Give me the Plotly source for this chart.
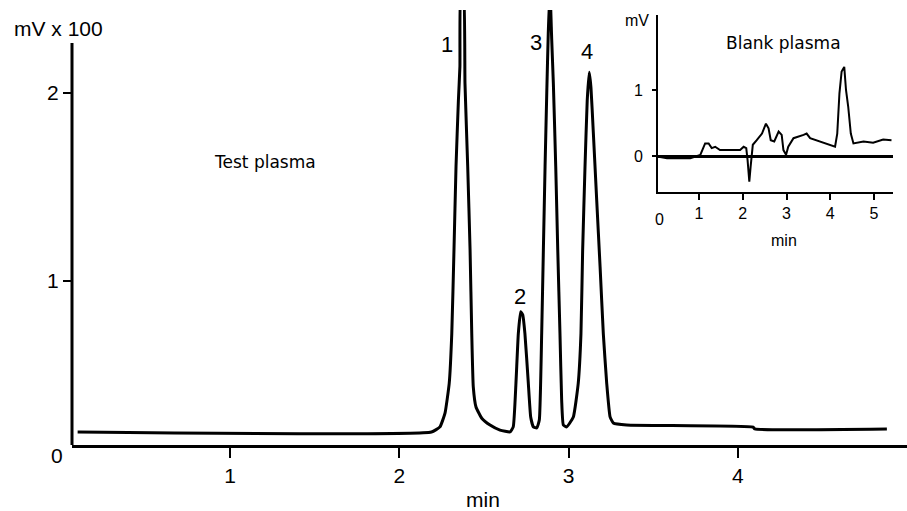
import plotly.graph_objects as go

W, H = 907, 511

# ---- main chromatogram (Test plasma): time (min), signal (mV x 100)
test_time = [0.10, 2.19, 2.24, 2.27, 2.295, 2.31, 2.323, 2.335, 2.349, 2.358, 2.364, 2.378,
             2.388, 2.404, 2.418, 2.428, 2.437, 2.453, 2.487, 2.536, 2.595, 2.654,
             2.673, 2.689, 2.703, 2.717, 2.729, 2.742, 2.762, 2.776, 2.792, 2.812,
             2.827, 2.841, 2.851, 2.861, 2.871, 2.880, 2.890, 2.900, 2.910, 2.924, 2.936,
             2.949, 2.959, 2.969, 2.989,
             3.028, 3.057, 3.073, 3.083, 3.097, 3.110, 3.122, 3.132, 3.146, 3.166, 3.186,
             3.205, 3.225, 3.245, 3.264, 3.343, 4.09, 4.10, 4.88]
test_signal = [0.197, 0.197, 0.224, 0.297, 0.457, 0.72, 1.165, 1.61, 1.96, 2.14, 2.55, 2.55,
               2.05, 1.61, 1.165, 0.72, 0.437, 0.33, 0.27, 0.234, 0.207, 0.197,
               0.224, 0.457, 0.72, 0.837, 0.82, 0.72, 0.457, 0.277, 0.224, 0.218,
               0.26, 0.72, 1.165, 1.61, 2.0, 2.32, 2.55, 2.29, 2.05, 1.61, 1.165,
               0.72, 0.367, 0.234, 0.224,
               0.277, 0.457, 0.72, 1.165, 1.61, 1.96, 2.11, 2.03, 1.79, 1.43, 1.075,
               0.72, 0.457, 0.277, 0.245, 0.234, 0.223, 0.213, 0.213]

peak_labels = ["1", "2", "3", "4"]
peak_label_time = [2.28, 2.715, 2.81, 3.11]
peak_label_signal = [2.26, 0.92, 2.27, 2.22]

main_xticks = [1, 2, 3, 4]
main_yticks = [1, 2]

# ---- inset chromatogram (Blank plasma): time (min), signal (mV)
blank_time = [0.08, 0.27, 0.80, 1.03, 1.14, 1.22, 1.29, 1.37, 1.48, 1.94, 2.02, 2.08, 2.11,
              2.15, 2.18, 2.23, 2.32, 2.44, 2.53, 2.59, 2.64, 2.72, 2.82, 2.89, 2.93, 2.99,
              3.04, 3.16, 3.39, 3.46, 3.54, 3.77, 4.00, 4.11, 4.16, 4.21, 4.26, 4.32, 4.36,
              4.41, 4.47, 4.53, 4.76, 4.98, 5.21, 5.40]
blank_signal = [-0.01, -0.035, -0.035, 0.015, 0.19, 0.19, 0.12, 0.14, 0.09, 0.09, 0.14, 0.12, -0.06,
                -0.39, -0.16, 0.17, 0.24, 0.34, 0.49, 0.42, 0.24, 0.22, 0.37, 0.32, 0.09, 0.02,
                0.14, 0.27, 0.32, 0.34, 0.27, 0.22, 0.17, 0.14, 0.34, 0.95, 1.28, 1.35, 1.0,
                0.75, 0.34, 0.19, 0.22, 0.20, 0.25, 0.24]
inset_xticks = [1, 2, 3, 4, 5]
inset_yticks = [0, 1]

FONT = "Liberation Sans, Arial, sans-serif"
LABEL_FONT = "DejaVu Sans, sans-serif"


def px(x):
    return x / W


def py(y):
    return (H - y) / H


fig = go.Figure()
fig.add_trace(go.Scatter(x=test_time, y=test_signal, mode="lines",
                         line=dict(color="black", width=3, shape="spline", smoothing=0.4),
                         xaxis="x", yaxis="y", showlegend=False, hoverinfo="skip"))
fig.add_trace(go.Scatter(x=blank_time, y=blank_signal, mode="lines",
                         line=dict(color="black", width=2),
                         xaxis="x2", yaxis="y2", showlegend=False, hoverinfo="skip"))

# peak number labels
for lab, xt, yt in zip(peak_labels, peak_label_time, peak_label_signal):
    fig.add_annotation(x=xt, y=yt, xref="x", yref="y", text=lab, showarrow=False,
                       font=dict(family=FONT, size=22, color="black"))

main_y_bottom = (469 - 445) / 188.0
main_y_top = (469 - 10) / 188.0
main_axis_top = (469 - 43) / 188.0

fig.update_layout(
    width=W, height=H,
    margin=dict(l=0, r=0, t=0, b=0),
    paper_bgcolor="white", plot_bgcolor="white",
    font=dict(family=FONT, color="black"),
    xaxis=dict(domain=[px(72), 1.0], range=[(72 - 60.7) / 169.3, (907 - 60.7) / 169.3],
               showgrid=False, zeroline=False, showline=True, linewidth=3, linecolor="black",
               ticks="outside", ticklen=10, tickwidth=2, tickcolor="black",
               tickvals=main_xticks, tickfont=dict(size=21, family=FONT)),
    yaxis=dict(domain=[py(445), py(10)], range=[main_y_bottom, main_y_top],
               showgrid=False, zeroline=False, showline=False,
               ticks="outside", ticklen=8, tickwidth=2, tickcolor="black",
               tickvals=main_yticks, tickfont=dict(size=21, family=FONT)),
    xaxis2=dict(domain=[px(658), px(893)], range=[(658 - 655.25) / 43.75, (893 - 655.25) / 43.75],
                anchor="y2", showgrid=False, zeroline=False, showline=True, linewidth=2,
                linecolor="black", ticks="outside", ticklen=6, tickwidth=2, tickcolor="black",
                tickvals=inset_xticks, tickfont=dict(size=16, family=FONT)),
    yaxis2=dict(domain=[py(192), py(15)], range=[(156 - 192) / 66.0, (156 - 15) / 66.0],
                anchor="x2", showgrid=False, zeroline=True, zerolinewidth=3, zerolinecolor="black",
                showline=True, linewidth=2, linecolor="black",
                ticks="outside", ticklen=4, tickwidth=2, tickcolor="black",
                tickvals=inset_yticks, ticklabelstandoff=6, tickfont=dict(size=16, family=FONT)),
)

# main y-axis line (shorter than plot area, peaks exceed it)
fig.add_shape(type="line", xref="paper", yref="y", x0=px(72), x1=px(72),
              y0=main_y_bottom, y1=main_axis_top, line=dict(color="black", width=3))

texts = [
    ("mV x 100", 58, 28, 21, FONT),
    ("0", 57, 455, 21, FONT),
    ("min", 483, 499, 21, FONT),
    ("Test plasma", 265, 162, 17, LABEL_FONT),
    ("Blank plasma", 783, 43, 17, LABEL_FONT),
    ("mV", 637, 20, 16, FONT),
    ("0", 659, 219, 16, FONT),
    ("min", 784, 240, 16, FONT),
]
for t, x, y, s, f in texts:
    fig.add_annotation(x=px(x), y=py(y), xref="paper", yref="paper", text=t, showarrow=False,
                       xanchor="center", yanchor="middle",
                       font=dict(family=f, size=s, color="black"))

fig.write_html(
    "out.html",
    config={"displayModeBar": False},
    post_script="document.body.style.margin='0';document.body.style.overflow='hidden';",
)
